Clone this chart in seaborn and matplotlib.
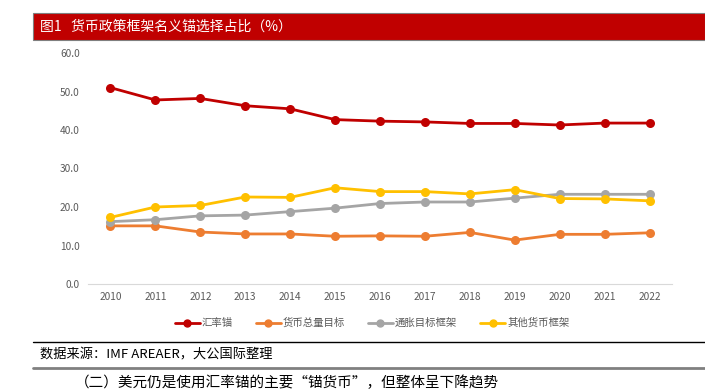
import seaborn as sns
import pandas as pd
from matplotlib import pyplot as plt
from matplotlib.lines import Line2D

''' Données '''

years = list(range(2010, 2023))
series_names = ["汇率锚", "货币总量目标", "通胀目标框架", "其他货币框架"]
fx_anchor = [51.0, 47.8, 48.2, 46.3, 45.5, 42.7, 42.3, 42.1, 41.7, 41.7, 41.3, 41.8, 41.8]
monetary_agg = [15.1, 15.1, 13.5, 13.0, 13.0, 12.4, 12.5, 12.4, 13.4, 11.4, 12.9, 12.9, 13.3]
inflation_target = [16.2, 16.7, 17.7, 17.9, 18.8, 19.7, 20.9, 21.3, 21.3, 22.3, 23.3, 23.3, 23.3]
other_framework = [17.3, 20.0, 20.4, 22.6, 22.5, 25.0, 24.0, 24.0, 23.4, 24.5, 22.2, 22.1, 21.6]
colors = ["#C00000", "#ED7D31", "#A5A5A5", "#FFC000"]

df = pd.DataFrame({"year": years * 4,
                   "value": fx_anchor + monetary_agg + inflation_target + other_framework,
                   "series": sum([[n] * len(years) for n in series_names], [])})

''' Figure '''

sns.set_theme(style="white")
plt.rcParams['font.family'] = ['Noto Sans CJK SC', 'DejaVu Sans']

fig = plt.figure(figsize=(7.05, 3.91), dpi=100)
ax = fig.add_axes([88 / 705, 1 - 284 / 391, 584 / 705, 231 / 391])

sns.lineplot(data=df, x="year", y="value", hue="series", hue_order=series_names,
             palette=colors, marker="o", markersize=6.5, markeredgewidth=0,
             linewidth=2.0, ax=ax, legend=False)

ax.set_xlim(2009.5, 2022.5)
ax.set_ylim(0, 60)
ax.set_xticks(years)
ax.set_xticklabels([str(y) for y in years])
ax.set_yticks(range(0, 61, 10))
ax.set_yticklabels([f"{v:.1f}" for v in range(0, 61, 10)])
ax.tick_params(axis="both", labelsize=7.3, colors="#595959", length=0, pad=6)
ax.set_xlabel("")
ax.set_ylabel("")
for side in ["top", "left", "right"]:
    ax.spines[side].set_visible(False)
ax.spines["bottom"].set_color("#D9D9D9")
ax.spines["bottom"].set_linewidth(0.8)

handles = [Line2D([0], [0], color=c, lw=2.0, marker="o", markersize=5) for c in colors]
fig.legend(handles, series_names, loc="center", bbox_to_anchor=(372 / 705, 1 - 323 / 391),
           ncol=4, frameon=False, fontsize=7.5, labelcolor="#595959",
           handlelength=2.4, handletextpad=0.2, columnspacing=2.2)

''' Bandeau titre '''

fig.patches.append(plt.Rectangle((33 / 705, 1 - 40 / 391), 672 / 705, 27 / 391,
                                 transform=fig.transFigure, facecolor="#C00000",
                                 edgecolor="#7F7F7F", linewidth=0.8))
fig.text(40 / 705, 1 - 27 / 391, "图1   货币政策框架名义锚选择占比（%）",
         color="white", fontsize=10, va="center", ha="left")

''' Source '''

fig.add_artist(Line2D([33 / 705, 1], [1 - 342 / 391] * 2, color="black", lw=1.0,
                      transform=fig.transFigure))
fig.text(40 / 705, 1 - 355 / 391, "数据来源：IMF AREAER，大公国际整理",
         color="black", fontsize=9.5, va="center", ha="left")
fig.add_artist(Line2D([33 / 705, 1], [1 - 367.5 / 391] * 2, color="#808080", lw=2.0,
                      transform=fig.transFigure))
fig.text(75 / 705, 1 - 376 / 391, "（二）美元仍是使用汇率锚的主要“锚货币”，但整体呈下降趋势",
         color="black", fontsize=10.5, va="top", ha="left")

fig.savefig("out.png", dpi=100)
